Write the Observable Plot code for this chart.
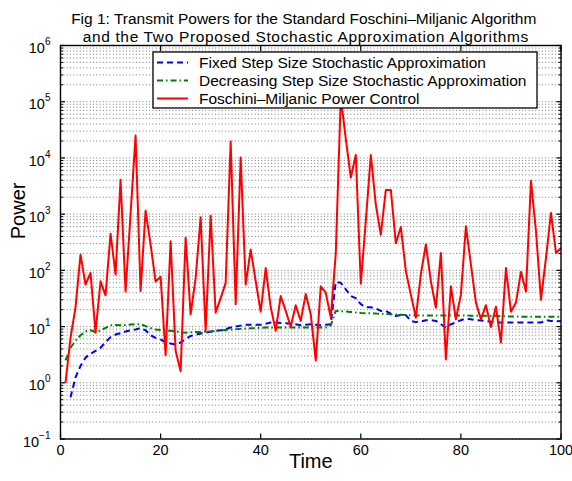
<!DOCTYPE html>
<html><head><meta charset="utf-8">
<script src="https://cdn.jsdelivr.net/npm/d3@7"></script>
<script src="https://cdn.jsdelivr.net/npm/@observablehq/plot@0.6"></script>
<style>body{margin:0;background:#fff;} #chart{width:572px;height:481px;}</style>
</head><body><div id="chart"></div>
<script>
const titleLines = ["Fig 1: Transmit Powers for the Standard Foschini\u2013Miljanic Algorithm",
                    "and the Two Proposed Stochastic Approximation Algorithms"];
const xLabel = "Time";
const yLabel = "Power";
const xTicks = [0, 20, 40, 60, 80, 100];
const yDecades = [0.1, 1, 10, 100, 1000, 10000, 100000, 1000000];
const yExponents = ["\u22121", "0", "1", "2", "3", "4", "5", "6"];
const seriesNames = ["Fixed Step Size Stochastic Approximation",
                     "Decreasing Step Size Stochastic Approximation",
                     "Foschini\u2013Miljanic Power Control"];
const seriesColors = ["#0000ff", "#008000", "#ff0000"];
const seriesDash = ["6,4", "6,3,1.5,3", null];

const time = d3.range(1, 101);

const fixedStep = [null, 0.55, 1.25, 2.0, 2.8, 3.3, 3.7, 4.2, 5.3, 6.5,
  7.2, 7.6, 8.2, 8.6, 8.9, 9.4, 8.6, 7.0, 6.3, 5.9,
  5.2, 5.0, 4.8, 5.2, 6.0, 6.8, 7.2, 7.5, 7.8, 8.1,
  8.4, 8.6, 9.0, 9.6, 10, 10.4, 10.8, 10.8, 10.8, 10.8,
  11.2, 11.8, 11.8, 11.6, 11.5, 11.2, 11, 10.6, 10.8, 11,
  10.8, 10.6, 10.8, 11, 62, 60, 46, 35, 32, 25,
  22, 22, 21, 19, 19, 17, 15.4, 16, 16, 12.6,
  12, 12.3, 13, 13, 12.6, 11, 9.6, 11, 11.8, 13,
  13.8, 13.5, 13, 12.8, 12.6, 12.2, 11.8, 11.8, 11.8, 11.8,
  11.8, 11.8, 11.8, 11.8, 11.8, 11.8, 13, 12.6, 12.4, 12.6];

const decreasingStep = [2.5, 4.2, 5.6, 7.0, 8.2, 8.6, 8.0, 8.5, 9.5, 10.5,
  10.7, 10.6, 10.7, 10.9, 11, 11, 10.2, 9.4, 8.9, 8.7,
  8.5, 8.4, 8.2, 8.0, 7.8, 7.9, 8.0, 8.0, 8.1, 8.2,
  8.4, 8.6, 8.7, 8.8, 9.0, 9.1, 9.2, 9.3, 9.4, 9.5,
  9.6, 9.6, 9.6, 9.6, 9.6, 9.6, 9.6, 9.6, 9.6, 9.6,
  9.6, 9.6, 9.6, 10.5, 19, 18.8, 18.5, 18.2, 17.8, 17.5,
  17.3, 17.2, 17, 16.9, 16.7, 16.5, 16.4, 16.2, 16, 15.9,
  15.8, 15.8, 15.8, 15.8, 15.8, 15.8, 15.8, 15.8, 15.7, 15.7,
  15.7, 15.6, 15.6, 15.6, 15.5, 15.4, 15.4, 15.3, 15.2, 15.1,
  15.1, 15, 15, 15, 15, 15, 15, 15, 15, 15];

const foschini = [1, 6.3, 22, 190, 56, 90, 7.8, 64, 36, 450,
  85, 4100, 42, 1000, 25000, 43, 1150, 290, 63, 77,
  3.1, 330, 3.7, 1.6, 380, 16.5, 73, 880, 8.3, 940,
  17.7, 32, 60, 19500, 25, 10200, 56, 235, 64, 18.4,
  110, 22, 8.4, 35, 19, 10, 24, 12.6, 38, 16.5,
  2.5, 52, 40, 14.4, 200, 120000, 22000, 4500, 11300, 58,
  750, 11300, 1480, 430, 2700, 2700, 305, 590, 97, 37,
  14.4, 85, 290, 64, 21.6, 204, 2.6, 52, 13.5, 37,
  610, 127, 26.7, 13.5, 24, 9.8, 22.6, 5.2, 110, 18.4,
  26.7, 94, 42, 3900, 500, 30, 166, 1050, 204, 250];

const gridVals = [];
for (let e = -1; e < 6; e++) for (let m = 1; m <= 9; m++) gridVals.push(m * 10 ** e);
gridVals.push(1e6);
const minorVals = gridVals.filter(v => !yDecades.includes(v));

const font = "'Liberation Sans', Arial, Helvetica, sans-serif";
const series = [fixedStep, decreasingStep, foschini];

const svg = Plot.plot({
  width: 572, height: 481,
  marginLeft: 60, marginRight: 11.5, marginTop: 45, marginBottom: 42.5,
  style: {fontFamily: font, fontSize: "14.5px", color: "black", background: "white", overflow: "visible"},
  x: {domain: [0, 100]},
  y: {type: "log", domain: [0.1, 1e6]},
  marks: [
    Plot.gridY(gridVals, {stroke: "#444", strokeOpacity: 0.7, strokeDasharray: "1,2.3"}),
    ...series.map((s, i) => Plot.lineY(s, {x: time, stroke: seriesColors[i], strokeWidth: 2,
        strokeDasharray: seriesDash[i], strokeLinejoin: "round", strokeLinecap: "butt"})),
    Plot.frame({stroke: "black", strokeWidth: 1.4}),
    Plot.axisX({ticks: xTicks, anchor: "bottom", tickSize: -5, tickFormat: () => "", label: null, strokeWidth: 1.2}),
    Plot.axisX({ticks: xTicks, anchor: "top", tickSize: -5, tickFormat: () => "", label: null, strokeWidth: 1.2}),
    Plot.axisX({ticks: xTicks, anchor: "bottom", tickSize: 0, tickPadding: 6, label: null, fontSize: 14.5}),
    Plot.axisY({ticks: yDecades, anchor: "left", tickSize: -5, tickFormat: () => "", label: null, strokeWidth: 1.2}),
    Plot.axisY({ticks: yDecades, anchor: "right", tickSize: -5, tickFormat: () => "", label: null, strokeWidth: 1.2}),
    Plot.axisY({ticks: minorVals, anchor: "left", tickSize: -3, tickFormat: () => "", label: null}),
    Plot.axisY({ticks: minorVals, anchor: "right", tickSize: -3, tickFormat: () => "", label: null}),
    Plot.axisY({ticks: yDecades, anchor: "left", tickSize: 0, tickPadding: 10, label: null, fontSize: 14.5,
        tickFormat: d => yExponents[yDecades.indexOf(d)]}),
    Plot.text([titleLines[0]], {frameAnchor: "top", dy: -33, dx: -7, fontSize: 15.5}),
    Plot.text([titleLines[1]], {frameAnchor: "top", dy: -15, dx: -5, fontSize: 15.5}),
    Plot.text([xLabel], {frameAnchor: "bottom", dy: 29, fontSize: 20}),
    Plot.text([yLabel], {frameAnchor: "left", dx: -42, dy: -3, rotate: -90, fontSize: 20})
  ]
});

// superscript exponents on the y tick labels (skip the empty tick-only axes)
d3.select(svg).selectAll('g[aria-label="y-axis tick label"] text').each(function () {
  const e = this.textContent;
  if (!e) { this.remove(); return; }
  const t = d3.select(this);
  t.text(null);
  t.append("tspan").attr("dy", "3").text("10");
  t.append("tspan").attr("dy", "-8").attr("font-size", "10px").text(e);
});
d3.select(svg).selectAll('g[aria-label="x-axis tick label"] text').each(function () {
  if (!this.textContent) this.remove();
});
// second title line is set a little wider in the reference
d3.select(svg).selectAll("text").filter(function () { return this.textContent === titleLines[1]; })
  .attr("letter-spacing", "0.65px");

// legend
const lg = d3.select(svg).append("g").attr("font-family", font).attr("font-size", 15.5)
  .attr("text-anchor", "start");
lg.append("rect").attr("x", 153).attr("y", 52).attr("width", 384).attr("height", 56)
  .attr("fill", "white").attr("stroke", "black").attr("stroke-width", 1.3);
seriesNames.forEach((name, i) => {
  const cy = 62.5 + i * 18;
  lg.append("line").attr("x1", 157).attr("x2", 188).attr("y1", cy).attr("y2", cy)
    .attr("stroke", seriesColors[i]).attr("stroke-width", 2)
    .attr("stroke-dasharray", seriesDash[i]);
  lg.append("text").attr("x", 199).attr("y", cy).attr("dy", "0.35em").text(name);
});

document.getElementById("chart").appendChild(svg);
</script>
</body></html>
